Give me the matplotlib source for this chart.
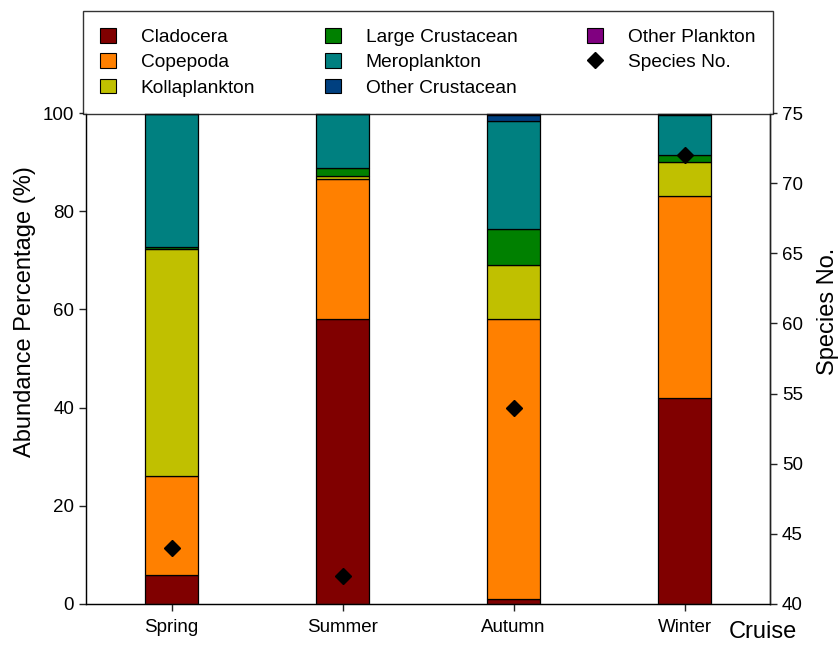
import numpy as np
import matplotlib
matplotlib.use("Agg")
import matplotlib.pyplot as plt
from matplotlib.lines import Line2D
from matplotlib.patches import Patch

plt.rcParams['font.family'] = ['Liberation Sans', 'DejaVu Sans']

cruises = ['Spring', 'Summer', 'Autumn', 'Winter']
groups = ['Cladocera', 'Copepoda', 'Kollaplankton', 'Large Crustacean',
          'Meroplankton', 'Other Crustacean', 'Other Plankton']
colors = ['#800000', '#ff8000', '#c0c000', '#008000',
          '#008080', '#004080', '#800080']

# abundance percentage per group, one value per cruise
cladocera = [6.0, 58.1, 1.0, 42.0]
copepoda = [20.0, 28.4, 57.1, 41.0]
kollaplankton = [46.3, 0.6, 10.9, 7.0]
large_crustacean = [0.4, 1.6, 7.4, 1.4]
meroplankton = [27.1, 11.0, 22.0, 8.2]
other_crustacean = [0.1, 0.2, 1.2, 0.2]
other_plankton = [0.1, 0.1, 0.4, 0.2]
species_no = [44, 42, 54, 72]

data = [cladocera, copepoda, kollaplankton, large_crustacean,
        meroplankton, other_crustacean, other_plankton]

fig = plt.figure(figsize=(8.4, 6.45), dpi=100)
ax = fig.add_axes([0.1024, 0.0636, 0.8143, 0.7612])

x = np.arange(len(cruises))
bottom = np.zeros(len(cruises))
for vals, col in zip(data, colors):
    ax.bar(x, vals, width=0.31, bottom=bottom, color=col,
           edgecolor='black', linewidth=0.9, zorder=2)
    bottom += np.array(vals)

ax.set_xlim(-0.5, 3.5)
ax.set_ylim(0, 100)
ax.set_yticks(np.arange(0, 101, 20))
ax.set_xticks(x)
ax.set_xticklabels(cruises)
ax.spines['top'].set_visible(False)
for s in ['left', 'bottom', 'right']:
    ax.spines[s].set_linewidth(1.0)
    ax.spines[s].set_color('#222222')
ax.tick_params(axis='both', direction='out', length=5, width=1,
               labelsize=13.5, color='#222222')
ax.tick_params(axis='x', pad=6)
ax.set_ylabel('Abundance Percentage (%)', fontsize=17)
ax.yaxis.set_label_coords(-0.089, 0.595)
ax.yaxis.label.set_verticalalignment('center')
ax.set_xlabel('Cruise', fontsize=17)
ax.xaxis.set_label_coords(0.99, -0.058)
ax.xaxis.label.set_verticalalignment('center')

ax2 = ax.twinx()
ax2.plot(x, species_no, linestyle='none', marker='D', color='black',
         markersize=8.5, zorder=5)
ax2.set_ylim(40, 75)
ax2.set_yticks(np.arange(40, 76, 5))
ax2.spines['top'].set_visible(False)
ax2.spines['right'].set_linewidth(1.0)
ax2.spines['right'].set_color('#222222')
ax2.tick_params(axis='y', direction='out', length=5, width=1,
                labelsize=13.5, color='#222222')
ax2.set_ylabel('Species No.', fontsize=17)
ax2.yaxis.set_label_coords(1.085, 0.595)
ax2.yaxis.label.set_verticalalignment('center')

handles = [Patch(facecolor=c, edgecolor='black', linewidth=0.8) for c in colors]
handles.append(Line2D([], [], linestyle='none', marker='D', color='black',
                      markersize=8))
labels = groups + ['Species No.']
leg = fig.legend(handles, labels, ncol=3, loc='upper left',
                 bbox_to_anchor=(0.0988, 0.983, 0.821, 0), mode='expand',
                 fontsize=13.8, frameon=True, fancybox=False,
                 handlelength=0.8, handleheight=0.8, handletextpad=1.3,
                 labelspacing=0.37, borderaxespad=0, borderpad=0.91,
                 columnspacing=2.0)
leg.get_frame().set_edgecolor('black')
leg.get_frame().set_linewidth(1.0)

fig.savefig('out.png', dpi=100)
